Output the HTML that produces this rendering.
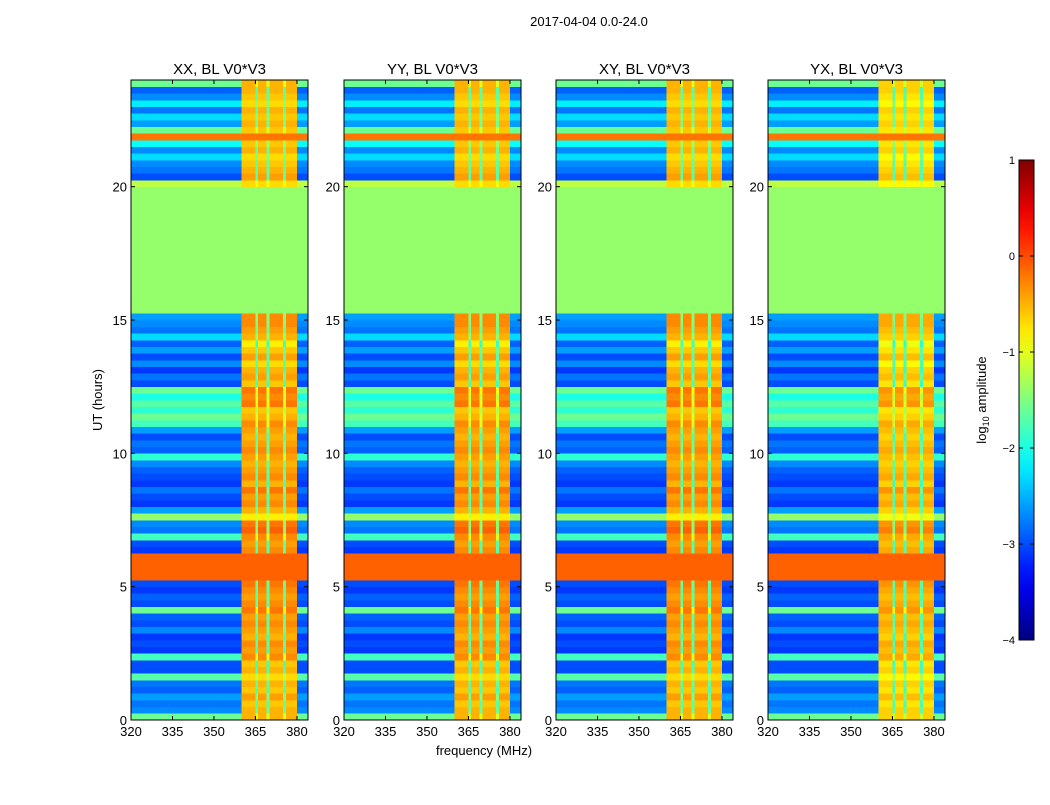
<!DOCTYPE html>
<html><head><meta charset="utf-8"><style>
body{margin:0;background:#fff;}
svg text{font-family:"Liberation Sans",sans-serif;fill:#000;}
</style></head><body>
<svg id="fig" width="1050" height="800" xmlns="http://www.w3.org/2000/svg">
<text x="589" y="26" font-size="13" text-anchor="middle">2017-04-04 0.0-24.0</text>
<text x="102" y="400" font-size="13" text-anchor="middle" transform="rotate(-90 102 400)">UT (hours)</text>
<text x="484" y="755" font-size="13" text-anchor="middle">frequency (MHz)</text>
<text x="986" y="400" font-size="13" text-anchor="middle" transform="rotate(-90 986 400)">log<tspan font-size="9" dy="3">10</tspan><tspan dy="-3"> amplitude</tspan></text>
</svg>
<script>
// data (log10 amplitude), rows are 0.25 h bins from 0 to 24 h
const panelTitles = ["XX, BL V0*V3","YY, BL V0*V3","XY, BL V0*V3","YX, BL V0*V3"];
const panelBandOffset = [0, 0, 0, -0.15];
const bgRow = [-1.6,-2.7,-2.8,-2.6,-2.9,-2.8,-1.7,-3.0,-3.0,-1.8,
 -3.1,-3.0,-3.1,-2.7,-3.0,-2.9,-1.6,-3.0,-2.9,-3.1,-3.0,-0.1,-0.1,-0.1,-0.1,
 -3.1,-3.0,-1.8,-2.8,-2.7,-1.4,-2.6,-3.1,-3.0,-2.8,-3.1,-3.0,-2.9,-2.7,-1.9,
 -2.9,-2.8,-3.0,-2.6,-1.8,-1.6,-1.9,-1.7,-2.0,-1.6,
 -3.0,-2.8,-3.1,-2.7,-3.0,-2.6,-2.9,-2.3,-2.8,-2.7,-2.6,
 -1.4,-1.4,-1.4,-1.4,-1.4,-1.4,-1.4,-1.4,-1.4,-1.4,-1.4,-1.4,-1.4,-1.4,-1.4,-1.4,-1.4,-1.4,-1.4,-1.2,
 -3.0,-2.8,-2.7,-2.3,-2.7,-2.1,-0.2,-1.6,-2.6,-2.3,-2.8,-2.2,-2.7,-2.9,-1.6];
const bandRow = [-0.5,-0.5,-0.6,-0.4,-0.6,-0.5,-0.7,-0.5,-0.6,-0.3,
 -0.4,-0.3,-0.5,-0.4,-0.3,-0.4,-0.2,-0.3,-0.4,-0.3,-0.2,-0.1,-0.1,-0.1,-0.1,
 -0.3,-0.4,-0.3,-0.1,-0.2,-0.8,-0.5,-0.3,-0.4,-0.2,-0.5,-0.3,-0.4,-0.5,-0.4,
 -0.3,-0.4,-0.5,-0.4,-0.3,-0.5,-0.6,-0.2,-0.3,-0.2,
 -0.6,-0.4,-0.5,-0.7,-0.4,-0.6,-0.8,-0.5,-0.4,-0.3,-0.3,
 -1.4,-1.4,-1.4,-1.4,-1.4,-1.4,-1.4,-1.4,-1.4,-1.4,-1.4,-1.4,-1.4,-1.4,-1.4,-1.4,-1.4,-1.4,-1.4,-0.7,
 -0.4,-0.5,-0.6,-0.7,-0.5,-0.6,-0.2,-0.6,-0.5,-0.6,-0.5,-0.7,-0.6,-0.5,-0.5];
// frequency channels: 1 = RFI band, 0.5 = gap inside band, 0 = background
const freqStart = 320, freqStep = 1;
const bandWeight = [0,0,0,0,0,0,0,0,0,0,0,0,0,0,0,0,0,0,0,0,0,0,0,0,0,0,0,0,0,0,0,0,0,0,0,0,0,0,0,0,
 1,1,1,1,1,0.5,1,1,1,0.5,1,1,1,1,1,0.5,1,1,1,1,0,0,0,0];
const xTicks = [320,335,350,365,380];
const yTicks = [0,5,10,15,20];
const cbTicks = [1,0,-1,-2,-3,-4];

const NS = "http://www.w3.org/2000/svg";
const svg = document.getElementById('fig');
function mk(tag, attrs, parent){const e=document.createElementNS(NS,tag);for(const k in attrs)e.setAttribute(k,attrs[k]);(parent||svg).appendChild(e);return e;}
function jet(v){let t=(v+4)/5;t=Math.max(0,Math.min(1,t));
 const c=x=>Math.round(255*Math.max(0,Math.min(1,x)));
 return `rgb(${c(1.5-Math.abs(4*t-3))},${c(1.5-Math.abs(4*t-2))},${c(1.5-Math.abs(4*t-1))})`;}
const panelX=[131,344,556,768], pw=177, pTop=80, pBot=720;
const fMin=320, fMax=384, tMin=0, tMax=24;
panelX.forEach((px,p)=>{
 const xs=f=>px+(f-fMin)/(fMax-fMin)*pw;
 const ys=t=>pBot-(t-tMin)/(tMax-tMin)*(pBot-pTop);
 const g=mk('g',{'shape-rendering':'crispEdges'});
 
 
 for(let r=0;r<bgRow.length;r++){
  for(let c=0;c<bandWeight.length;c++){
   const w=bandWeight[c];
   const band=bandRow[r]+panelBandOffset[p];
   const v=bgRow[r]*(1-w)+Math.max(band,bgRow[r])*w;
   const f0=freqStart+c*freqStep, x0=xs(f0), x1=xs(f0+freqStep);
   const y0=ys((r+1)*0.25), y1=ys(r*0.25);
   const cell=mk('rect',{x:x0,y:y0,width:x1-x0+0.3,height:y1-y0+0.3,fill:jet(v)},g);
   
   
  }
 }
 const fr=mk('rect',{x:px,y:pTop,width:pw,height:pBot-pTop,fill:'none',stroke:'#000','stroke-width':1});
 
 
 const tt=mk('text',{x:px+pw/2,y:74,'font-size':15,'text-anchor':'middle'});tt.textContent=panelTitles[p];
 
 
 xTicks.forEach(f=>{const x=xs(f);
  mk('line',{x1:x,x2:x,y1:pBot,y2:pBot-4,stroke:'#000'});mk('line',{x1:x,x2:x,y1:pTop,y2:pTop+4,stroke:'#000'});
  const t=mk('text',{x:x,y:pBot+16,'font-size':13,'text-anchor':'middle'});t.textContent=f;
  
  });
 yTicks.forEach(h=>{const y=ys(h);
  mk('line',{x1:px,x2:px+4,y1:y,y2:y,stroke:'#000'});mk('line',{x1:px+pw,x2:px+pw-4,y1:y,y2:y,stroke:'#000'});
  const t=mk('text',{x:px-4,y:y+5,'font-size':13,'text-anchor':'end'});t.textContent=h;
  
  });
});
// colorbar
const cbX=1019,cbW=15,cbTop=160,cbBot=640;
const defs=mk('defs',{});const lg=mk('linearGradient',{id:'jetg',x1:0,y1:1,x2:0,y2:0},defs);
for(let i=0;i<=20;i++){mk('stop',{offset:i/20,'stop-color':jet(-4+5*i/20)},lg);}
const cb=mk('rect',{x:cbX,y:cbTop,width:cbW,height:cbBot-cbTop,fill:'url(#jetg)',stroke:'#000'});


cbTicks.forEach(v=>{const y=cbBot-(v+4)/5*(cbBot-cbTop);
 mk('line',{x1:cbX,x2:cbX+4,y1:y,y2:y,stroke:'#000'});mk('line',{x1:cbX+cbW,x2:cbX+cbW-4,y1:y,y2:y,stroke:'#000'});
 const t=mk('text',{x:cbX-4,y:y+4,'font-size':11,'text-anchor':'end'});t.textContent=(v<0?'\u2212'+(-v):v);
 
 });
</script>
</body></html>
